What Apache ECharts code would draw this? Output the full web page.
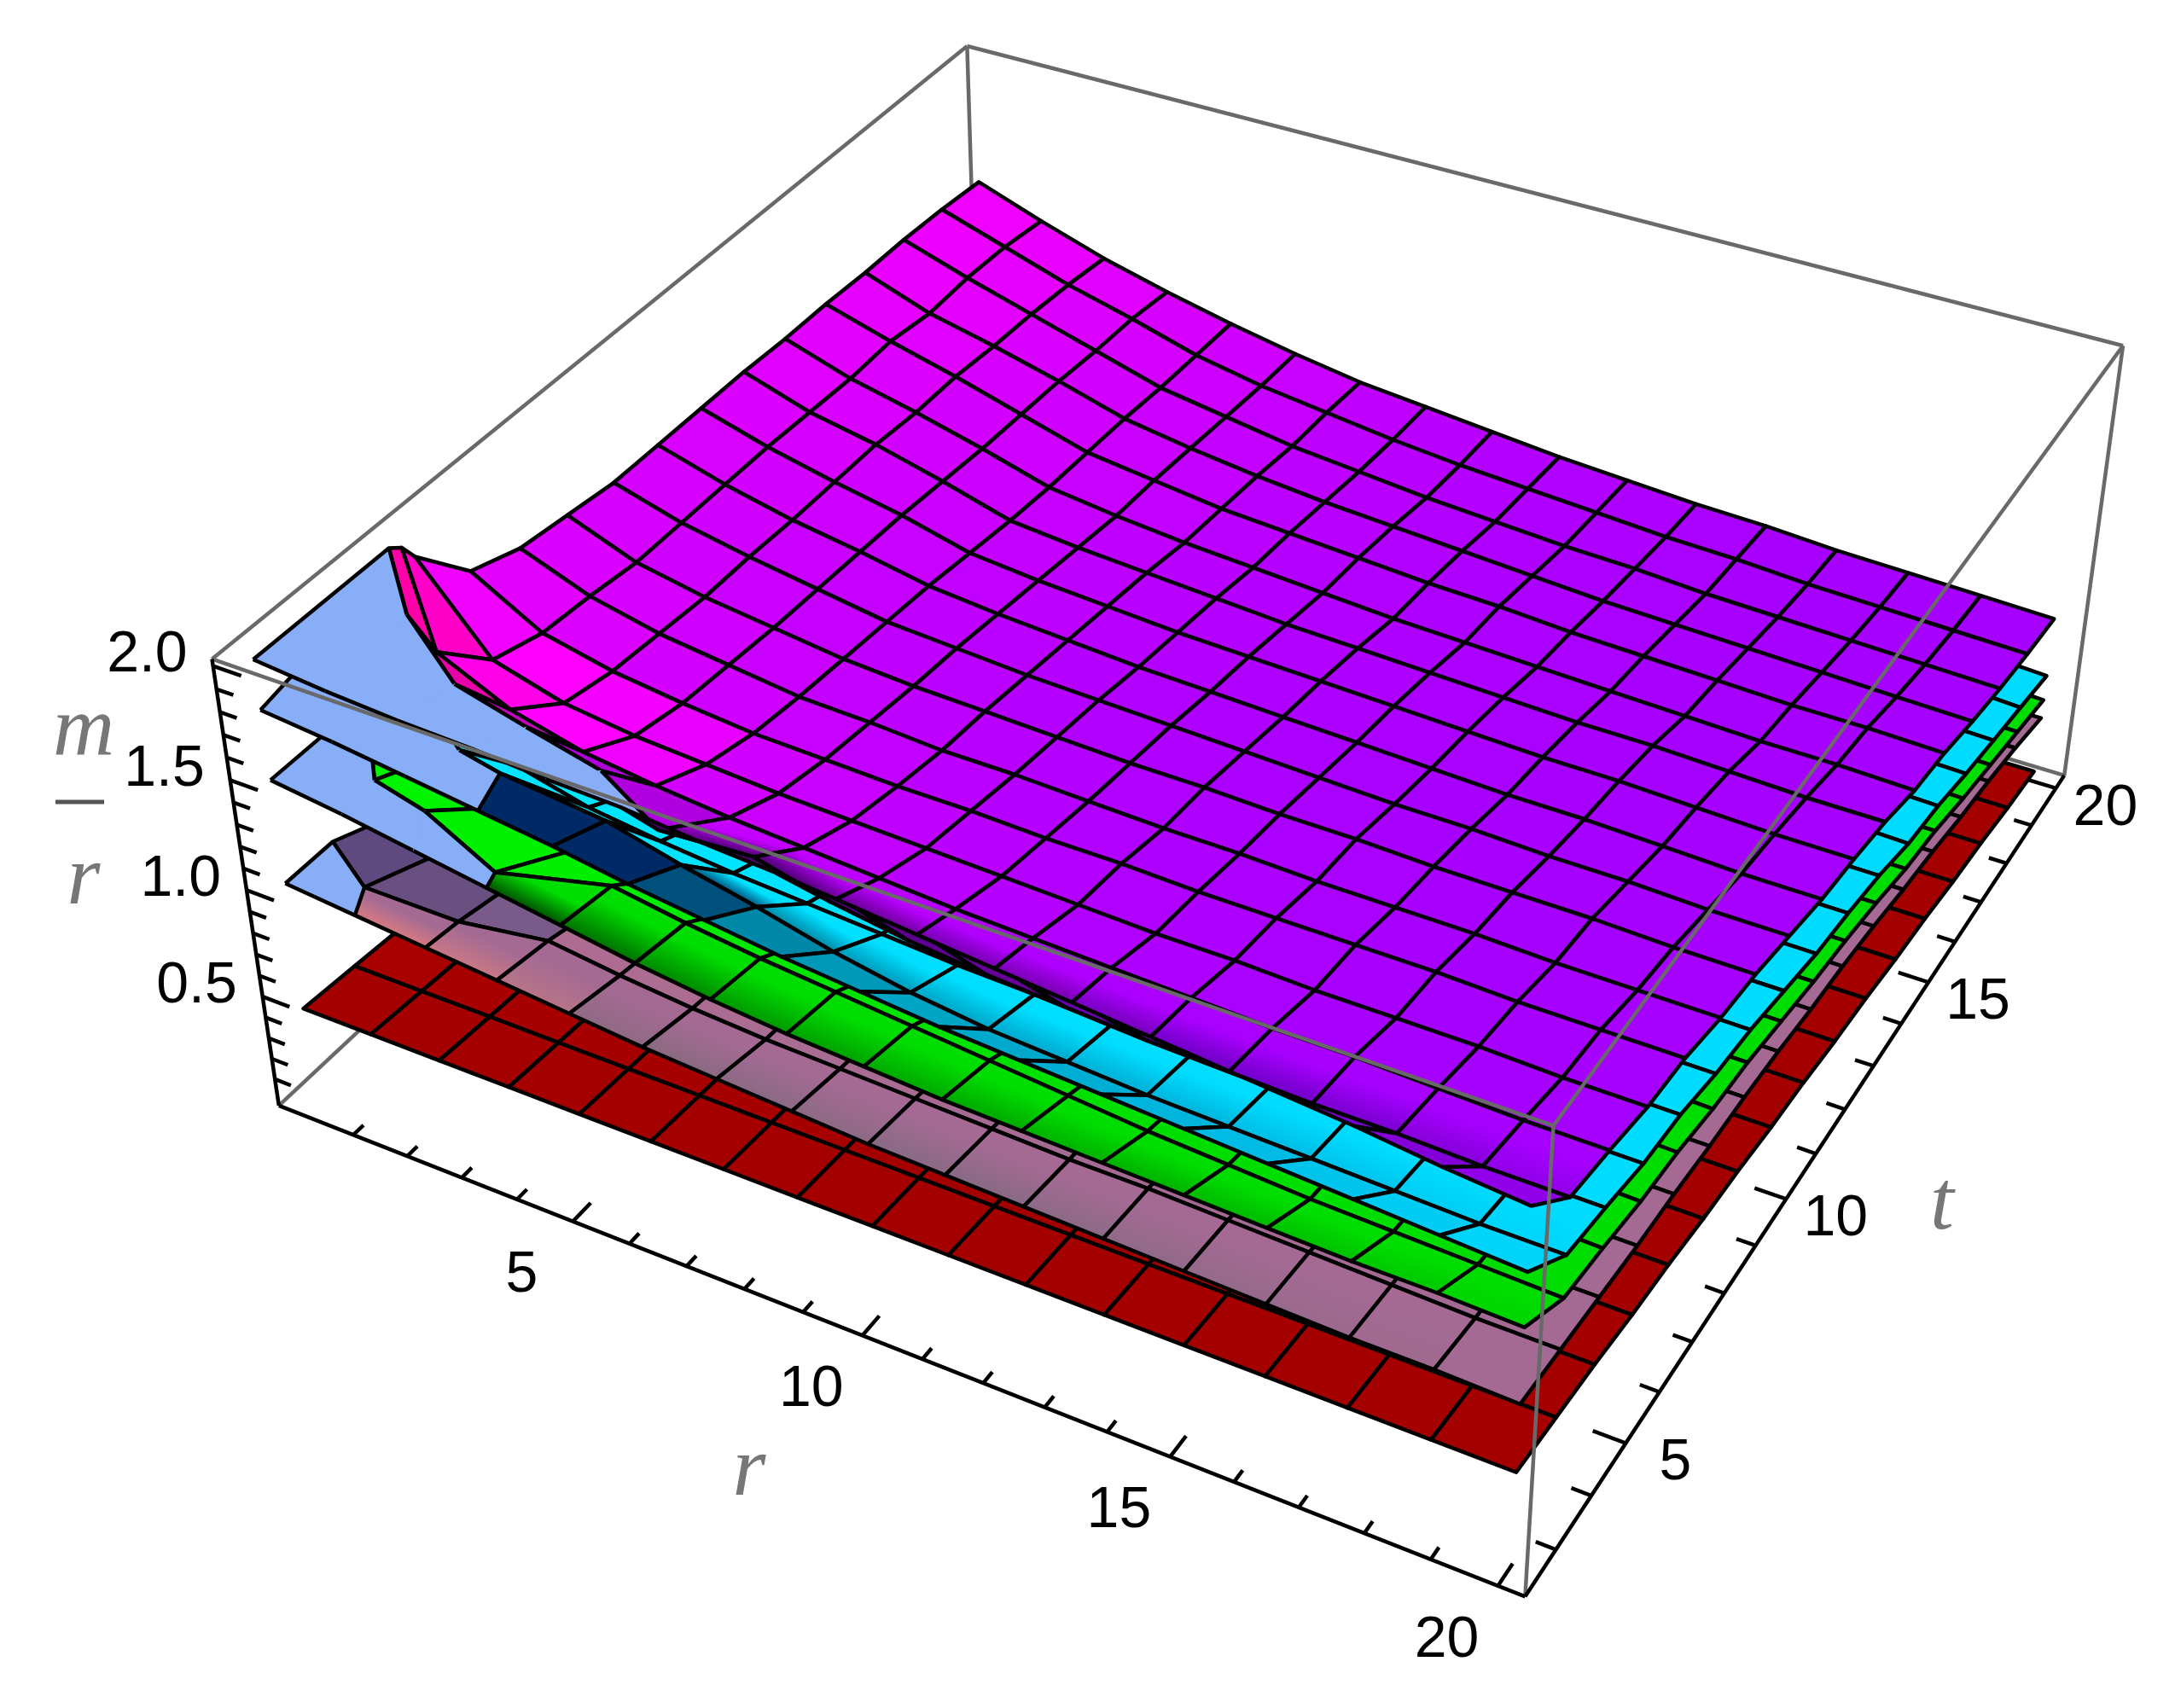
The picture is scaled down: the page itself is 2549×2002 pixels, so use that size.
<!DOCTYPE html>
<html>
<head>
<meta charset="utf-8">
<title>m/r surfaces</title>
<script src="https://cdn.jsdelivr.net/npm/echarts@6/dist/echarts.min.js"></script>
<style>
  html,body{margin:0;padding:0;background:#fff}
  #chart{width:2549px;height:2002px}
</style>
</head>
<body>
<div id="chart"></div>
<script>
// grid of the surfaces, mesh has 16 cells each way
const rNodes = [0,1.25,2.5,3.75,5,6.25,7.5,8.75,10,11.25,12.5,13.75,15,16.25,17.5,18.75,20];
const tRows = [2.5,3.6,4.69,5.79,6.88,7.97,9.06,10.16,11.25,12.34,13.44,14.53,15.63,16.72,17.81,18.91,20];

const rTickValues = [1,2,3,4,5,6,7,8,9,10,11,12,13,14,15,16,17,18,19,20];
const tTickValues = [3,4,5,6,7,8,9,10,11,12,13,14,15,16,17,18,19,20];
const zTickValues = [0.1,0.2,0.3,0.4,0.5,0.6,0.7,0.8,0.9,1.0,1.1,1.2,1.3,1.4,1.5,1.6,1.7,1.8,1.9,2.0];
const rTickLabels = [5,10,15,20];
const tTickLabels = [5,10,15,20];
const zTickLabels = ['0.5','1.0','1.5','2.0'];

// second row of every surface starts at another t for small r (the fold)
const purpleFoldT = [5.3,4.2,3.65,3.6,3.6,3.2,3.6,3.6,3.6,3.6,3.6,3.6,3.6,3.6,3.6,3.6,3.6];
const cyanFoldT   = [5.0,4.0,3.6,3.0,3.6,3.6,3.6,3.6,3.6,3.6,3.6,3.6,3.6,3.6,3.6,3.6,3.6];
const greenFoldT  = [4.5,3.2,2.8,2.7,3.6,3.6,3.6,3.6,3.6,3.6,3.6,3.6,3.6,3.6,3.6,3.6,3.6];
const mauveFoldT  = [3.5,2.75,3.2,3.6,3.6,3.6,3.6,3.6,3.6,3.6,3.6,3.6,3.6,3.6,3.6,3.6,3.6];
const redFoldT    = [3.6,3.6,3.6,3.6,3.6,3.6,3.6,3.6,3.6,3.6,3.6,3.6,3.6,3.6,3.6,3.6,3.6];

// m/r, one row per t line, one column per r line
const purpleZ = [
  [2.00,1.97,1.95,1.94,1.92,1.91,1.88,1.86,1.83,1.80,1.77,1.74,1.71,1.68,1.65,1.61,1.58],
  [2.00,2.00,1.90,1.83,1.75,1.68,1.60,1.52,1.47,1.44,1.42,1.40,1.39,1.38,1.38,1.37,1.37],
  [1.96,1.75,1.60,1.52,1.48,1.45,1.43,1.41,1.39,1.38,1.37,1.36,1.35,1.35,1.34,1.33,1.33],
  [1.88,1.52,1.43,1.39,1.37,1.35,1.34,1.33,1.32,1.31,1.30,1.30,1.29,1.29,1.29,1.28,1.28],
  [1.63,1.45,1.38,1.34,1.31,1.30,1.29,1.29,1.28,1.28,1.27,1.27,1.27,1.27,1.26,1.26,1.26],
  [1.55,1.43,1.36,1.32,1.28,1.27,1.25,1.25,1.24,1.23,1.23,1.22,1.22,1.22,1.21,1.21,1.21],
  [1.52,1.40,1.34,1.30,1.26,1.24,1.23,1.22,1.21,1.21,1.20,1.20,1.19,1.19,1.19,1.18,1.18],
  [1.49,1.40,1.34,1.29,1.24,1.22,1.20,1.19,1.18,1.17,1.16,1.15,1.15,1.14,1.14,1.13,1.13],
  [1.49,1.40,1.33,1.28,1.22,1.19,1.17,1.15,1.14,1.13,1.12,1.11,1.10,1.10,1.09,1.08,1.08],
  [1.49,1.40,1.33,1.27,1.19,1.16,1.14,1.12,1.11,1.10,1.09,1.08,1.07,1.07,1.06,1.05,1.05],
  [1.49,1.39,1.33,1.25,1.16,1.13,1.11,1.09,1.07,1.06,1.05,1.04,1.03,1.03,1.02,1.01,1.01],
  [1.48,1.38,1.31,1.23,1.14,1.10,1.07,1.05,1.03,1.01,1.00,0.99,0.98,0.97,0.96,0.96,0.95],
  [1.48,1.39,1.31,1.22,1.13,1.09,1.05,1.03,1.01,0.99,0.98,0.96,0.95,0.94,0.93,0.93,0.92],
  [1.47,1.36,1.29,1.21,1.12,1.07,1.03,1.00,0.98,0.96,0.94,0.92,0.91,0.90,0.89,0.88,0.87],
  [1.47,1.37,1.28,1.19,1.10,1.05,1.00,0.97,0.94,0.92,0.90,0.89,0.87,0.86,0.85,0.84,0.83],
  [1.46,1.36,1.26,1.18,1.09,1.03,0.99,0.95,0.92,0.90,0.88,0.86,0.85,0.83,0.82,0.81,0.80],
  [1.44,1.33,1.23,1.15,1.08,1.02,0.97,0.94,0.91,0.88,0.86,0.84,0.83,0.81,0.80,0.79,0.78]
];
const cyanZ = [
  [1.78,1.75,1.71,1.67,1.63,1.58,1.54,1.50,1.47,1.44,1.42,1.40,1.38,1.36,1.34,1.32,1.30],
  [1.90,1.85,1.62,1.74,1.53,1.45,1.38,1.30,1.24,1.20,1.18,1.16,1.15,1.14,1.13,1.12,1.12],
  [1.71,1.50,1.35,1.27,1.23,1.20,1.18,1.16,1.14,1.13,1.12,1.11,1.10,1.10,1.09,1.08,1.08],
  [1.63,1.27,1.18,1.14,1.12,1.10,1.09,1.08,1.07,1.06,1.05,1.05,1.04,1.04,1.04,1.03,1.03],
  [1.38,1.20,1.13,1.09,1.06,1.05,1.04,1.04,1.03,1.03,1.02,1.02,1.02,1.02,1.01,1.01,1.01],
  [1.30,1.18,1.11,1.07,1.03,1.02,1.00,1.00,0.99,0.98,0.98,0.97,0.97,0.97,0.96,0.96,0.96],
  [1.27,1.15,1.09,1.05,1.01,0.99,0.98,0.97,0.96,0.96,0.95,0.95,0.94,0.94,0.94,0.93,0.93],
  [1.24,1.15,1.09,1.04,0.99,0.97,0.95,0.94,0.93,0.92,0.91,0.90,0.90,0.89,0.89,0.88,0.88],
  [1.24,1.15,1.08,1.03,0.97,0.94,0.92,0.90,0.89,0.88,0.87,0.86,0.85,0.85,0.84,0.83,0.83],
  [1.24,1.15,1.08,1.02,0.94,0.91,0.89,0.87,0.86,0.85,0.84,0.83,0.82,0.82,0.81,0.80,0.80],
  [1.24,1.14,1.08,1.00,0.91,0.88,0.86,0.84,0.82,0.81,0.80,0.79,0.78,0.78,0.77,0.76,0.76],
  [1.23,1.13,1.06,0.98,0.89,0.85,0.82,0.80,0.78,0.76,0.75,0.74,0.73,0.72,0.71,0.71,0.70],
  [1.23,1.14,1.06,0.97,0.88,0.84,0.80,0.78,0.76,0.74,0.73,0.71,0.70,0.69,0.68,0.68,0.67],
  [1.22,1.11,1.04,0.96,0.87,0.82,0.78,0.75,0.73,0.71,0.69,0.67,0.66,0.65,0.64,0.63,0.62],
  [1.22,1.12,1.03,0.94,0.85,0.80,0.75,0.72,0.69,0.67,0.65,0.64,0.62,0.61,0.60,0.59,0.58],
  [1.21,1.11,1.01,0.93,0.84,0.78,0.74,0.70,0.67,0.65,0.63,0.61,0.60,0.58,0.57,0.56,0.54],
  [1.19,1.08,0.98,0.90,0.81,0.75,0.70,0.67,0.64,0.61,0.59,0.57,0.56,0.54,0.53,0.52,0.50]
];
const greenZ = [
  [1.47,1.43,1.38,1.33,1.28,1.23,1.19,1.16,1.14,1.12,1.11,1.10,1.09,1.08,1.07,1.07,1.06],
  [1.47,1.45,1.50,1.36,1.24,1.19,1.15,1.12,1.09,1.06,1.03,1.00,0.98,0.96,0.95,0.94,0.93],
  [1.45,1.30,1.16,1.10,1.06,1.03,1.01,0.99,0.97,0.96,0.95,0.94,0.93,0.93,0.92,0.91,0.90],
  [1.30,1.12,1.03,0.99,0.97,0.95,0.94,0.93,0.92,0.91,0.90,0.90,0.89,0.89,0.88,0.87,0.86],
  [1.20,1.05,0.98,0.94,0.91,0.90,0.89,0.89,0.88,0.88,0.87,0.87,0.87,0.86,0.85,0.85,0.84],
  [1.14,1.03,0.96,0.92,0.88,0.87,0.85,0.85,0.84,0.83,0.83,0.82,0.82,0.82,0.81,0.81,0.80],
  [1.10,1.00,0.94,0.90,0.86,0.84,0.83,0.82,0.81,0.81,0.80,0.80,0.79,0.79,0.79,0.78,0.78],
  [1.10,1.00,0.94,0.89,0.84,0.82,0.80,0.79,0.78,0.77,0.76,0.75,0.75,0.74,0.74,0.74,0.74],
  [1.10,1.00,0.93,0.88,0.82,0.79,0.77,0.75,0.74,0.73,0.72,0.71,0.71,0.71,0.70,0.70,0.70],
  [1.10,1.00,0.93,0.87,0.79,0.76,0.74,0.72,0.71,0.70,0.69,0.68,0.68,0.68,0.67,0.67,0.67],
  [1.10,0.99,0.93,0.85,0.76,0.73,0.71,0.69,0.68,0.67,0.66,0.65,0.65,0.64,0.64,0.63,0.63],
  [1.09,0.98,0.91,0.83,0.74,0.70,0.67,0.65,0.63,0.62,0.61,0.60,0.60,0.59,0.59,0.58,0.58],
  [1.09,0.99,0.91,0.82,0.73,0.69,0.65,0.63,0.61,0.60,0.59,0.58,0.57,0.56,0.56,0.55,0.55],
  [1.08,0.96,0.89,0.81,0.72,0.67,0.63,0.60,0.58,0.56,0.55,0.54,0.53,0.52,0.51,0.51,0.50],
  [1.08,0.97,0.88,0.79,0.70,0.65,0.60,0.57,0.55,0.53,0.51,0.50,0.49,0.48,0.47,0.47,0.46],
  [1.07,0.96,0.86,0.78,0.69,0.63,0.59,0.55,0.52,0.50,0.48,0.47,0.46,0.45,0.44,0.43,0.42],
  [1.05,0.93,0.83,0.75,0.67,0.61,0.56,0.53,0.50,0.48,0.46,0.45,0.43,0.42,0.41,0.40,0.38]
];
const mauveZ = [
  [1.00,0.97,0.94,0.91,0.88,0.85,0.83,0.81,0.79,0.78,0.77,0.76,0.75,0.74,0.73,0.73,0.72],
  [1.00,1.05,0.92,0.87,0.83,0.80,0.78,0.77,0.76,0.75,0.74,0.74,0.73,0.72,0.71,0.70,0.70],
  [0.89,0.87,0.85,0.81,0.79,0.77,0.76,0.74,0.73,0.72,0.72,0.71,0.70,0.69,0.69,0.68,0.68],
  [0.78,0.78,0.77,0.75,0.73,0.72,0.71,0.70,0.70,0.69,0.68,0.68,0.68,0.67,0.67,0.66,0.66],
  [0.72,0.72,0.72,0.71,0.70,0.69,0.68,0.68,0.67,0.67,0.67,0.66,0.66,0.66,0.65,0.65,0.65],
  [0.66,0.66,0.66,0.66,0.65,0.65,0.65,0.64,0.64,0.64,0.64,0.64,0.64,0.63,0.63,0.63,0.63],
  [0.67,0.66,0.65,0.64,0.64,0.64,0.63,0.63,0.63,0.63,0.63,0.62,0.62,0.62,0.62,0.62,0.62],
  [0.65,0.64,0.63,0.62,0.62,0.62,0.61,0.61,0.61,0.61,0.61,0.60,0.60,0.60,0.60,0.60,0.60],
  [0.63,0.61,0.60,0.60,0.59,0.59,0.59,0.58,0.58,0.58,0.58,0.58,0.57,0.57,0.57,0.57,0.57],
  [0.61,0.59,0.58,0.58,0.57,0.57,0.57,0.56,0.56,0.56,0.56,0.56,0.55,0.55,0.55,0.55,0.55],
  [0.60,0.58,0.56,0.56,0.55,0.54,0.54,0.54,0.53,0.53,0.53,0.53,0.53,0.52,0.52,0.52,0.52],
  [0.58,0.55,0.54,0.52,0.52,0.51,0.51,0.50,0.50,0.49,0.49,0.49,0.49,0.49,0.48,0.48,0.48],
  [0.55,0.52,0.51,0.49,0.49,0.48,0.48,0.47,0.47,0.46,0.46,0.46,0.46,0.46,0.45,0.45,0.45],
  [0.53,0.50,0.48,0.46,0.45,0.45,0.44,0.44,0.43,0.43,0.42,0.42,0.42,0.42,0.42,0.41,0.41],
  [0.52,0.48,0.46,0.44,0.43,0.42,0.42,0.41,0.40,0.40,0.40,0.39,0.39,0.39,0.39,0.38,0.38],
  [0.49,0.45,0.42,0.41,0.39,0.39,0.38,0.37,0.37,0.36,0.36,0.35,0.35,0.35,0.35,0.34,0.34],
  [0.45,0.41,0.38,0.36,0.35,0.34,0.33,0.32,0.32,0.31,0.31,0.31,0.30,0.30,0.30,0.29,0.29]
];
// the red sheet does not change with r
const redByT = [0.41,0.39,0.37,0.34,0.32,0.29,0.27,0.24,0.22,0.19,0.17,0.14,0.12,0.09,0.07,0.04,0.02];

// colours
const BLUE = '#88aef8';
const purpleRow0 = [BLUE,BLUE,BLUE,BLUE,BLUE,'#4a0070','#4a0070','#520078','#5c0090','#660098','#6a00b0','#6a00c0','#7000c8','#7800d0','#8400d8','#9000e8'];
const cyanRow0   = [BLUE,BLUE,BLUE,'#002a66','#002a66','#00507c','#0088a8','#0098b8','#00a4c4','#00a8cc','#00aed4','#00b4dc','#00bce4','#00c4ec','#00ccf4','#00d4fa'];
const greenRow0  = [BLUE,BLUE,BLUE,'#005000','#007000','#008800','#009800','#00a000','#00a800','#00a800','#00b000','#00b000','#00b800','#00c000','#00c800','#00d400'];
const mauveRow0  = [BLUE,'#d87a80','#c87884','#b87488','#8f6a82','#8a6a80','#8a6a84','#8c6a84','#886a84','#886a84','#8c6a86','#906a88','#946a8a','#9a6a8e','#a06a90','#a46a94'];
const redRow0    = ['#a40000','#a40000','#a40000','#a40000','#a40000','#a40000','#a40000','#a40000','#a40000','#a40000','#a40000','#a40000','#a40000','#a40000','#a40000','#a40000'];
const heatByR = [0.75,0.68,0.58,0.5,0.42,0.34,0.26,0.2,0.14,0.1,0.07,0.04,0.02,0,0,0];
const heatByT = [1,1,1.2,1.1,0.9,0.8,0.7,0.7,0.75,0.8,0.85,0.9,0.95,1,1.05,1.1];

const surfaces = [
  {z:redByT.map(v => rNodes.map(() => v)), fold:redFoldT, row0:redRow0, main:[164,0,0], hot:[170,0,0], cells:{}},
  {z:mauveZ, fold:mauveFoldT, row0:mauveRow0, main:[164,106,148], hot:[184,112,140],
    cells:{'0,1':'#5f4a7f','1,1':'#6a5080','2,1':'#7a5a88','0,2':'#6d5084','1,2':'#7a5a88','2,2':'#8a6088'}},
  {z:greenZ, fold:greenFoldT, row0:greenRow0, main:[0,221,0], hot:[0,255,0], cells:{}},
  // on cyan and purple the dark band also reaches the second row
  {z:cyanZ, fold:cyanFoldT, row0:cyanRow0, main:[0,220,255], hot:[0,235,255], band:true,
    cells:{'3,1':'#00e4ff','4,1':'#00e4ff'}},
  {z:purpleZ, fold:purpleFoldT, row0:purpleRow0, main:[166,0,255], hot:[255,0,255], band:true,
    cells:{'0,1':'#ff00a8','1,1':'#e800a8','2,1':'#c800c0','3,1':'#b000d8','4,1':'#b000e0',
      '0,2':'#ff00c8','1,2':'#ff00e8','2,2':'#ff00ff','3,2':'#f000ff','1,3':'#ff00ff','2,3':'#f400ff','3,3':'#e800ff'}}
];

// box limits and where its corners sit on the page, used to fit the camera
const rBox = [-0.4,20.4], tBox = [2.15,20.35], zBox = [-0.03,2.03];
const cornerUVW = [[0,0,0],[1,0,0],[1,1,0],[0,1,0],[0,0,1],[1,0,1],[1,1,1],[0,1,1]];
const cornerPx = [[329,1298],[1787,1871],[2420,908],[1146,527],[247,770],[1820,1320],[2488,406],[1135,55]];

function fitCamera(){
  let A = [], b = [];
  cornerUVW.forEach((c,k) => {
    let [u,v,w] = c, [x,y] = cornerPx[k];
    A.push([u,v,w,1,0,0,0,0,-x*u,-x*v,-x*w]); b.push(x);
    A.push([0,0,0,0,u,v,w,1,-y*u,-y*v,-y*w]); b.push(y);
  });
  let n = 11, M = [];
  for(let i=0;i<n;i++){
    M[i] = [];
    for(let j=0;j<n;j++){
      let s = 0;
      A.forEach(row => { s += row[i]*row[j]; });
      M[i][j] = s;
    }
    let s = 0;
    A.forEach((row,k) => { s += row[i]*b[k]; });
    M[i][n] = s;
  }
  for(let i=0;i<n;i++){
    let p = i;
    for(let k=i+1;k<n;k++) if(Math.abs(M[k][i])>Math.abs(M[p][i])) p = k;
    [M[i],M[p]] = [M[p],M[i]];
    for(let k=0;k<n;k++){
      if(k===i) continue;
      let f = M[k][i]/M[i][i];
      for(let j=i;j<=n;j++) M[k][j] -= f*M[i][j];
    }
  }
  return M.map((row,i) => row[n]/row[i]);
}
const cam = fitCamera();

function project(r,t,z){
  let u = (r-rBox[0])/(rBox[1]-rBox[0]),
      v = (t-tBox[0])/(tBox[1]-tBox[0]),
      w = (z-zBox[0])/(zBox[1]-zBox[0]);
  let d = cam[8]*u+cam[9]*v+cam[10]*w+1;
  return [(cam[0]*u+cam[1]*v+cam[2]*w+cam[3])/d, (cam[4]*u+cam[5]*v+cam[6]*w+cam[7])/d];
}

function nodeT(s,i,j){
  if(j===1) return s.fold[i];
  if(j===2) return Math.max(tRows[2],s.fold[i]+0.25);
  return tRows[j];
}
function nodePoint(s,i,j,api){
  return api.coord(project(rNodes[i],nodeT(s,i,j),s.z[j][i]));
}
function rgb(c){
  return 'rgb('+c.join(',')+')';
}
function cellColor(s,i,j){
  let key = i+','+j;
  if(s.cells[key]) return s.cells[key];
  if(j===0) return s.row0[i];
  let k = Math.min(1,heatByR[i]*heatByT[j]);
  return rgb(s.main.map((m,c) => Math.round(m+(s.hot[c]-m)*k)));
}

// gradient that runs square to the near edge of a cell
function edgeGradient(p00,p10,p01,p11,from,to,end){
  let ex = p10[0]-p00[0], ey = p10[1]-p00[1], len = Math.hypot(ex,ey);
  let nx = -ey/len, ny = ex/len;
  let mx = (p01[0]+p11[0])/2-p00[0], my = (p01[1]+p11[1])/2-p00[1];
  let d = mx*nx+my*ny;
  return new echarts.graphic.LinearGradient(p00[0],p00[1],p00[0]+nx*d,p00[1]+ny*d,[
    {offset:0,color:from},{offset:end,color:to},{offset:1,color:to}
  ],true);
}

// far cells first so the near ones paint over them
const cellOrder = [];
for(let j=15;j>=0;j--){
  for(let i=0;i<16;i++) cellOrder.push([i,j]);
}

const MESH = {stroke:'#000',lineWidth:4.5,lineJoin:'round'};

function surfaceSeries(s){
  return {
    type:'custom', silent:true, clip:false, animation:false,
    data:cellOrder,
    renderItem(params,api){
      let i = api.value(0), j = api.value(1);
      let p00 = nodePoint(s,i,j,api), p10 = nodePoint(s,i+1,j,api),
          p11 = nodePoint(s,i+1,j+1,api), p01 = nodePoint(s,i,j+1,api);
      let fill = cellColor(s,i,j);
      if(fill===BLUE){
        // back side of the sheet, no mesh on it, only its outline
        let kids = [
          {type:'polygon',shape:{points:[p00,p10,p11,p01]},style:{fill:fill,stroke:fill,lineWidth:1}},
          {type:'polyline',shape:{points:[p00,p10]},style:Object.assign({fill:null},MESH)},
          {type:'polyline',shape:{points:[p01,p11]},style:Object.assign({fill:null},MESH)}
        ];
        if(i===0) kids.push({type:'polyline',shape:{points:[p00,p01]},style:Object.assign({fill:null},MESH)});
        return {type:'group',children:kids};
      }
      // the near rows darken towards the edge of the sheet
      if(j===0 && !s.band){
        fill = edgeGradient(p00,p10,p01,p11,fill,rgb(s.main),0.7);
      }
      if(j===1 && s.band && s.row0[i]!==BLUE && !s.cells[i+','+j]){
        fill = edgeGradient(p00,p10,p01,p11,s.row0[i],fill,0.65);
      }
      return {type:'polygon',shape:{points:[p00,p10,p11,p01]},style:Object.assign({fill:fill},MESH)};
    }
  };
}

function lineSeries(segments,color,width){
  return {
    type:'custom', silent:true, clip:false, animation:false,
    data:segments.map((_,k) => [k]),
    renderItem(params,api){
      let seg = segments[api.value(0)];
      let a = api.coord(project(seg[0],seg[1],seg[2])), b = api.coord(project(seg[3],seg[4],seg[5]));
      return {type:'line',shape:{x1:a[0],y1:a[1],x2:b[0],y2:b[1]},style:{stroke:color,lineWidth:width}};
    }
  };
}

function labelSeries(items){
  return {
    type:'custom', silent:true, clip:false, animation:false,
    data:items.map((_,k) => [k]),
    renderItem(params,api){
      let it = items[api.value(0)];
      let a = api.coord(project(it.r,it.t,it.z));
      return {type:'text',x:a[0]+it.dx,y:a[1]+it.dy,
        style:{text:String(it.text),fill:'#000',font:'68px "Liberation Sans"',align:it.align||'center',verticalAlign:'middle'}};
    }
  };
}

const [r0,r1] = rBox, [t0,t1] = tBox, [z0,z1] = zBox;
const backEdges = [
  [r0,t1,z0,r1,t1,z0],[r0,t0,z0,r0,t1,z0],[r0,t1,z0,r0,t1,z1],
  [r0,t0,z1,r0,t1,z1],[r0,t1,z1,r1,t1,z1],[r1,t1,z0,r1,t1,z1]
];
const frontEdges = [
  [r0,t0,z1,r1,t0,z1],[r1,t0,z1,r1,t1,z1],[r1,t0,z0,r1,t0,z1]
];
const axisLines = [
  [r0,t0,z0,r1,t0,z0],[r1,t0,z0,r1,t1,z0],[r0,t0,z0,r0,t0,z1]
];
const tickLines = [];
rTickValues.forEach(v => {
  tickLines.push([v,t0,z0,v,t0+(v%5===0?0.4:0.22),z0]);
});
tTickValues.forEach(v => {
  tickLines.push([r1,v,z0,r1-(v%5===0?0.5:0.3),v,z0]);
});
zTickValues.forEach(v => {
  tickLines.push([r0,t0,v,r0+(Math.round(v*10)%5===0?0.5:0.3),t0,v]);
});

const tickTexts = [];
rTickLabels.forEach(v => tickTexts.push({r:v,t:t0,z:z0,text:v,dx:-60,dy:64}));
tTickLabels.forEach(v => tickTexts.push({r:r1,t:v,z:z0,text:v,dx:58,dy:24}));
zTickLabels.forEach(v => tickTexts.push({r:r0,t:t0,z:Number(v),text:v,dx:-30,dy:-12,align:'right'}));

function axisTitle(text,x,y){
  return {type:'text',silent:true,x:x,y:y,
    style:{text:text,fill:'#777',font:'italic 100px "Liberation Serif"',align:'center',verticalAlign:'middle'}};
}

let chart = echarts.init(document.getElementById('chart'),null,{renderer:'canvas'});
chart.setOption({
  animation:false,
  backgroundColor:'#fff',
  grid:{left:0,right:0,top:0,bottom:0},
  xAxis:{type:'value',min:0,max:2549,show:false},
  yAxis:{type:'value',min:0,max:2002,inverse:true,show:false},
  graphic:[
    axisTitle('m',98,858),
    {type:'line',silent:true,shape:{x1:65,y1:940,x2:122,y2:940},style:{stroke:'#555',lineWidth:5}},
    axisTitle('r',98,1033),
    axisTitle('r',878,1726),
    axisTitle('t',2276,1414)
  ],
  series:[
    lineSeries(backEdges,'#696969',4.5)
  ].concat(surfaces.map(surfaceSeries),[
    lineSeries(frontEdges,'#696969',4.5),
    lineSeries(axisLines,'#000',4.5),
    lineSeries(tickLines,'#000',4.5),
    labelSeries(tickTexts)
  ])
});
</script>
</body>
</html>
